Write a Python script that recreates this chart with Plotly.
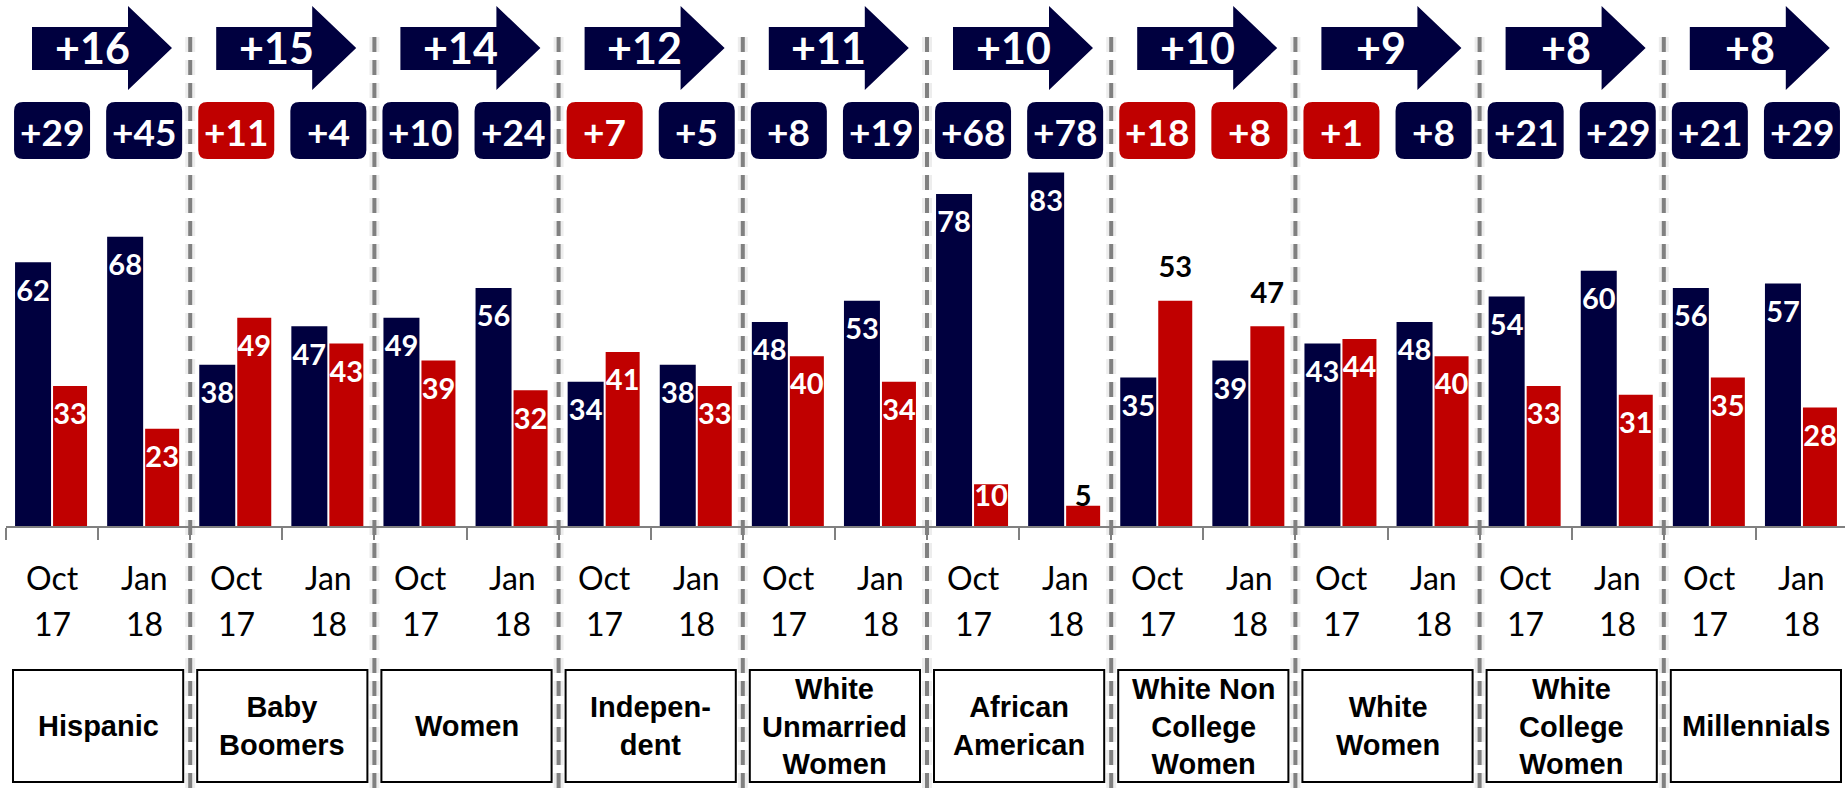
import plotly.graph_objects as go

# ---------------- data ----------------
groups = ["Hispanic", "Baby<br>Boomers", "Women", "Indepen-<br>dent",
          "White<br>Unmarried<br>Women", "African<br>American",
          "White Non<br>College<br>Women", "White<br>Women",
          "White<br>College<br>Women", "Millennials"]
period_months = ["Oct", "Jan"]
period_years = ["17", "18"]
dem_oct = [62, 38, 49, 34, 48, 78, 35, 43, 54, 56]
dem_jan = [68, 47, 56, 38, 53, 83, 39, 48, 60, 57]
rep_oct = [33, 49, 39, 41, 40, 10, 53, 44, 33, 35]
rep_jan = [23, 43, 32, 33, 34, 5, 47, 40, 31, 28]

# ---------------- style / geometry ----------------
NAVY = "#00003F"
RED = "#C00000"
GRAY = "#808080"
W, H = 1845, 788
X0_PX = 6          # left edge of first category
PXX = 92.1         # pixels per category
BASE_PX = 527      # pixel row of value 0
PXY = 4.27         # pixels per value unit
NUM_FONT = "Lato"
BOX_FONT = "Liberation Sans"
OUTSIDE_LABELS = {("rep", 12), ("rep", 13)}


def yp(p):
    """pixel row -> data y"""
    return (BASE_PX - p) / PXY


def dx(px):
    """pixel width -> data x"""
    return px / PXX


N = len(groups)
x_pos = [2 * g + k for g in range(N) for k in range(2)]
dem_vals = [v for pair in zip(dem_oct, dem_jan) for v in pair]
rep_vals = [v for pair in zip(rep_oct, rep_jan) for v in pair]

fig = go.Figure()
fig.add_trace(go.Bar(x=x_pos, y=dem_vals, width=dx(36), offset=dx(-37),
                     marker=dict(color=NAVY, line=dict(width=0)),
                     hoverinfo="skip", showlegend=False))
fig.add_trace(go.Bar(x=x_pos, y=rep_vals, width=dx(34), offset=dx(1),
                     marker=dict(color=RED, line=dict(width=0)),
                     hoverinfo="skip", showlegend=False))


def label_positions(vals, key, xoff):
    xs, ys, cols = [], [], []
    for i, v in enumerate(vals):
        xs.append(x_pos[i] + xoff)
        hpx = v * PXY
        if (key, i) in OUTSIDE_LABELS:
            ys.append(v + 31 / PXY)
            cols.append("black")
        elif hpx < 60:
            ys.append(yp(BASE_PX - 28))
            cols.append("white" if hpx > 30 else "black")
        else:
            ys.append(v - 31 / PXY)
            cols.append("white")
    return xs, ys, cols


for vals, key, xoff in [(dem_vals, "dem", dx(-19)), (rep_vals, "rep", dx(18))]:
    xs, ys, cols = label_positions(vals, key, xoff)
    fig.add_trace(go.Scatter(x=xs, y=ys, mode="text", text=[str(v) for v in vals],
                             textposition="middle center",
                             textfont=dict(family=NUM_FONT, size=29, color=cols,
                                           weight="bold"),
                             hoverinfo="skip", showlegend=False))

shapes = []
annotations = []

# dashed separators
for g in range(1, N):
    xb = 2 * g - 0.5
    shapes.append(dict(type="line", x0=xb, x1=xb, y0=yp(H), y1=yp(34),
                       line=dict(color="rgba(0,0,0,0.07)", width=10, dash="15px,8px"),
                       layer="below"))
    shapes.append(dict(type="line", x0=xb, x1=xb, y0=yp(H), y1=yp(34),
                       line=dict(color=GRAY, width=4, dash="15px,8px")))


def rounded_box(cx, hw, ytop_px, ybot_px, r_px):
    x0, x1 = cx - dx(hw), cx + dx(hw)
    y0, y1 = yp(ybot_px), yp(ytop_px)
    rx, ry = dx(r_px), r_px / PXY
    return (f"M {x0 + rx},{y0} L {x1 - rx},{y0} Q {x1},{y0} {x1},{y0 + ry} "
            f"L {x1},{y1 - ry} Q {x1},{y1} {x1 - rx},{y1} L {x0 + rx},{y1} "
            f"Q {x0},{y1} {x0},{y1 - ry} L {x0},{y0 + ry} Q {x0},{y0} {x0 + rx},{y0} Z")


for g in range(N):
    gl = 2 * g - 0.5
    gr = 2 * g + 1.5
    margins = [dem_oct[g] - rep_oct[g], dem_jan[g] - rep_jan[g]]
    shift = margins[1] - margins[0]

    # arrow
    bl, hb, tip = gl + dx(26), gl + dx(122), gl + dx(166)
    path = (f"M {bl},{yp(70)} L {hb},{yp(70)} L {hb},{yp(90)} L {tip},{yp(48)} "
            f"L {hb},{yp(6)} L {hb},{yp(27)} L {bl},{yp(27)} Z")
    shapes.append(dict(type="path", path=path, fillcolor=NAVY, line=dict(width=0)))
    annotations.append(dict(x=gl + dx(86), y=yp(47), text=f"+{shift}" if shift >= 0 else str(shift),
                            showarrow=False, xanchor="center", yanchor="middle",
                            font=dict(family=NUM_FONT, size=43, color="white", weight="bold")))

    # margin boxes
    for k in range(2):
        m = margins[k]
        col = NAVY if m > 0 else RED
        cx = 2 * g + k
        shapes.append(dict(type="path", path=rounded_box(cx, 38, 102, 159, 9),
                           fillcolor=col, line=dict(width=0)))
        annotations.append(dict(x=cx, y=yp(131), text=f"+{abs(m)}", showarrow=False,
                                xanchor="center", yanchor="middle",
                                font=dict(family=NUM_FONT, size=37, color="white",
                                          weight="bold")))
        # period labels
        annotations.append(dict(x=cx, y=yp(577), text=period_months[k], showarrow=False,
                                xanchor="center", yanchor="middle",
                                font=dict(family=NUM_FONT, size=32, color="black")))
        annotations.append(dict(x=cx, y=yp(623), text=period_years[k], showarrow=False,
                                xanchor="center", yanchor="middle",
                                font=dict(family=NUM_FONT, size=32, color="black")))

    # category box
    shapes.append(dict(type="rect", x0=gl + dx(7), x1=gr - dx(7), y0=yp(782), y1=yp(670),
                       line=dict(color="black", width=2), fillcolor="white"))
    annotations.append(dict(x=2 * g + 0.5, y=yp(726), text=groups[g], showarrow=False,
                            xanchor="center", yanchor="middle",
                            font=dict(family=BOX_FONT, size=29, color="black",
                                      weight="bold")))

fig.update_layout(
    width=W, height=H,
    margin=dict(l=X0_PX, r=0, t=0, b=0, pad=0, autoexpand=False),
    paper_bgcolor="white", plot_bgcolor="white",
    barmode="overlay",
    showlegend=False,
    hovermode=False,
    shapes=shapes,
    annotations=annotations,
    xaxis=dict(range=[-0.5, -0.5 + (W - X0_PX) / PXX], showgrid=False, zeroline=False,
               showline=True, linecolor=GRAY, linewidth=2,
               ticks="outside", ticklen=12, tickwidth=2, tickcolor=GRAY,
               tickvals=[k - 0.5 for k in range(2 * N + 1)], showticklabels=False,
               anchor="free", position=(H - BASE_PX) / H, fixedrange=True),
    yaxis=dict(range=[yp(H), yp(0)], visible=False, showgrid=False, zeroline=False,
               fixedrange=True),
)

fig.write_html("out.html", config={"displayModeBar": False, "staticPlot": True},
               post_script="document.body.style.margin='0';document.body.style.overflow='hidden';")
